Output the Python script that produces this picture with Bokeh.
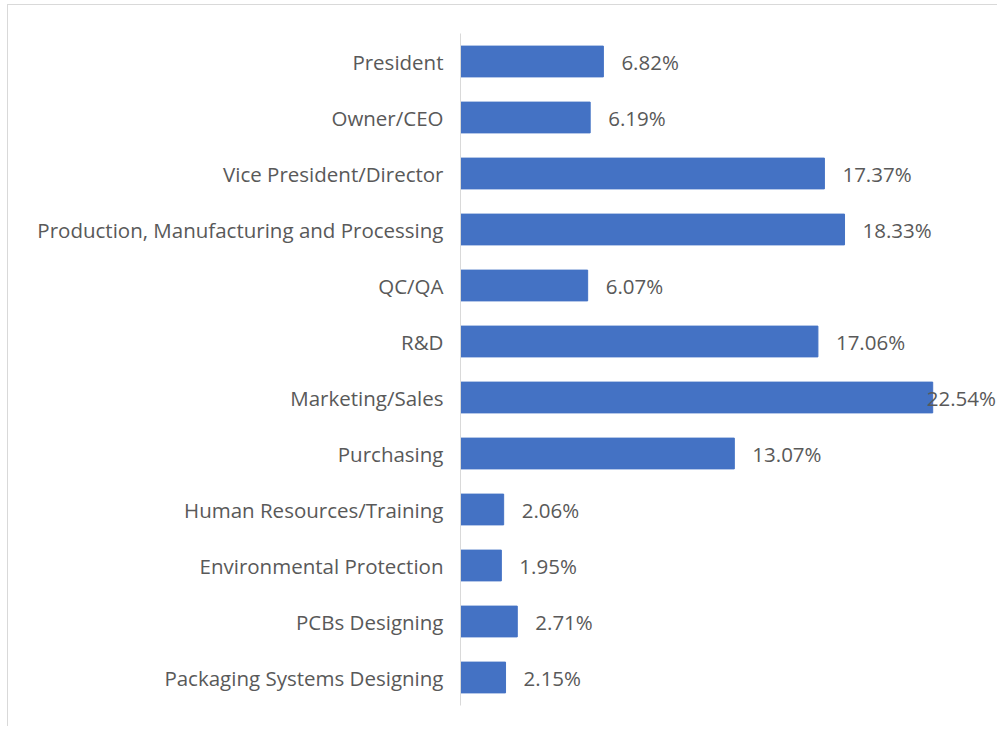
from bokeh.plotting import figure
from bokeh.models import ColumnDataSource, FactorRange, Range1d
from bokeh.core.properties import value
from bokeh.embed import file_html
from bokeh.resources import INLINE

categories = ["President", "Owner/CEO", "Vice President/Director",
              "Production, Manufacturing and Processing", "QC/QA", "R&D",
              "Marketing/Sales", "Purchasing", "Human Resources/Training",
              "Environmental Protection", "PCBs Designing",
              "Packaging Systems Designing"]
values = [6.82, 6.19, 17.37, 18.33, 6.07, 17.06, 22.54, 13.07, 2.06, 1.95, 2.71, 2.15]
labels = ["%.2f%%" % v for v in values]

FONT = "Open Sans"
TXT = "#595959"

vmax = max(values)
offsets = [18 if v < vmax else -6 for v in values]

src = ColumnDataSource(dict(cat=categories, val=values, lab=labels, off=offsets))

p = figure(width=990, height=722, output_backend="svg", toolbar_location=None,
           y_range=FactorRange(factors=list(reversed(categories))),
           x_range=Range1d(0, 25.68),
           min_border_left=452, min_border_right=0, min_border_top=28, min_border_bottom=22)
p.styles = {"border-left": "1px solid #d9d9d9", "border-top": "1px solid #d9d9d9",
            "margin-left": "7px", "margin-top": "4px"}

p.hbar(y="cat", right="val", left=0, height=0.55, source=src, color="#4472C4")
p.text(x="val", y="cat", text="lab", source=src, x_offset="off",
       text_align="left", text_baseline="middle", text_font=value(FONT),
       text_font_size="20.5px", text_color=TXT)

p.xaxis.visible = False
p.xgrid.visible = False
p.ygrid.visible = False
p.outline_line_color = None
yax = p.yaxis[0]
yax.axis_line_color = "#d9d9d9"
yax.major_tick_line_color = None
yax.minor_tick_line_color = None
yax.major_label_standoff = 11
yax.major_label_text_font = FONT
yax.major_label_text_font_size = "20.5px"
yax.major_label_text_color = TXT

open("out.html", "w").write(file_html(p, INLINE))
